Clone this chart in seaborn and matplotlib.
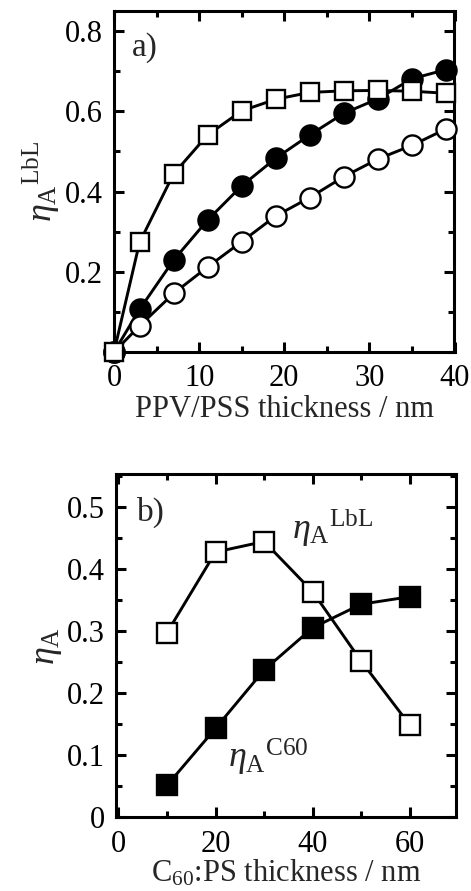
import matplotlib
matplotlib.use("Agg")
import matplotlib.pyplot as plt
import seaborn as sns
import numpy as np
import pandas as pd
from matplotlib.ticker import FixedLocator, MultipleLocator

# ---- panel a) data: absorption efficiency vs PPV/PSS thickness ----
thick_a = [0, 3, 7, 11, 15, 19, 23, 27, 31, 35, 39]
eta_open_sq = [0.0, 0.273, 0.444, 0.541, 0.601, 0.630, 0.647, 0.651, 0.652, 0.650, 0.645]
eta_filled_circ = [0.0, 0.106, 0.229, 0.329, 0.414, 0.483, 0.541, 0.595, 0.631, 0.681, 0.704]
eta_open_circ = [0.0, 0.065, 0.146, 0.212, 0.275, 0.339, 0.385, 0.437, 0.481, 0.515, 0.556]

# ---- panel b) data: absorption efficiency vs C60:PS thickness ----
thick_b = [10, 20, 30, 40, 50, 60]
eta_lbl = [0.297, 0.427, 0.444, 0.363, 0.251, 0.148]
eta_c60 = [0.051, 0.143, 0.237, 0.305, 0.343, 0.355]

# tick labels
yticks_a = [0.2, 0.4, 0.6, 0.8]
ytick_labels_a = ["0.2", "0.4", "0.6", "0.8"]
xticks_a = [0, 10, 20, 30, 40]
yticks_b = [0, 0.1, 0.2, 0.3, 0.4, 0.5]
ytick_labels_b = ["0", "0.1", "0.2", "0.3", "0.4", "0.5"]
xticks_b = [0, 20, 40, 60]

sns.set_style("ticks")
plt.rcParams.update({
    "font.family": ["Liberation Serif", "DejaVu Serif"],
    "mathtext.fontset": "custom",
    "mathtext.rm": "Liberation Serif",
    "mathtext.it": "Liberation Serif:italic",
    "mathtext.bf": "Liberation Serif:bold",
    "font.size": 22,
    "axes.linewidth": 2.2,
    "xtick.direction": "in",
    "ytick.direction": "in",
    "xtick.top": True,
    "ytick.right": True,
    "xtick.major.size": 7,
    "ytick.major.size": 7,
    "xtick.minor.size": 4,
    "ytick.minor.size": 4,
    "xtick.major.width": 2.2,
    "ytick.major.width": 2.2,
    "xtick.minor.width": 2.2,
    "ytick.minor.width": 2.2,
    "xtick.labelsize": 22,
    "ytick.labelsize": 22,
    "xtick.color": "black",
    "ytick.color": "black",
    "axes.edgecolor": "black",
    "xtick.major.pad": 9,
    "ytick.major.pad": 8,
})

W, H = 471, 891
fig = plt.figure(figsize=(W / 100, H / 100), dpi=100)
ax1 = fig.add_axes([114 / W, (H - 352) / H, 340.5 / W, 341 / H])
ax2 = fig.add_axes([116 / W, (H - 817) / H, 340 / W, 342.5 / H])

line_kw = dict(color="black", linewidth=2.1, markeredgecolor="black",
               markeredgewidth=1.7, clip_on=False)

df_a = pd.DataFrame({"x": thick_a, "sq": eta_open_sq,
                     "fc": eta_filled_circ, "oc": eta_open_circ})

sns.lineplot(data=df_a, x="x", y="fc", ax=ax1, sort=False, marker="o",
             markersize=14.5, markerfacecolor="black", zorder=3, **line_kw)
sns.lineplot(data=df_a, x="x", y="oc", ax=ax1, sort=False, marker="o",
             markersize=14.5, markerfacecolor="white", zorder=4, **line_kw)
sns.lineplot(data=df_a, x="x", y="sq", ax=ax1, sort=False, marker="s",
             markersize=13, markerfacecolor="white", zorder=5, **line_kw)

ax1.set_xlim(0, 40)
ax1.set_ylim(0, 0.85)
ax1.xaxis.set_major_locator(FixedLocator(xticks_a))
ax1.xaxis.set_minor_locator(MultipleLocator(5))
ax1.set_yticks(yticks_a)
ax1.set_yticklabels(ytick_labels_a)
ax1.yaxis.set_minor_locator(MultipleLocator(0.1))
ax1.set_xlabel("PPV/PSS thickness / nm", fontsize=22, labelpad=1)
ax1.set_ylabel(r"${\eta_{\mathrm{A}}}^{\mathrm{LbL}}$", fontsize=26, labelpad=2)
ax1.text(0.053, 0.87, "a)", transform=ax1.transAxes, fontsize=24,
         ha="left", va="baseline")

df_b = pd.DataFrame({"x": thick_b, "lbl": eta_lbl, "c60": eta_c60})
sns.lineplot(data=df_b, x="x", y="c60", ax=ax2, sort=False, marker="s",
             markersize=15, markerfacecolor="black", zorder=3, **line_kw)
sns.lineplot(data=df_b, x="x", y="lbl", ax=ax2, sort=False, marker="s",
             markersize=15, markerfacecolor="white", zorder=4, **line_kw)

ax2.set_xlim(-0.5, 69.5)
ax2.set_ylim(0, 0.552)
ax2.xaxis.set_major_locator(FixedLocator(xticks_b))
ax2.xaxis.set_minor_locator(FixedLocator([10, 30, 50]))
ax2.set_yticks(yticks_b)
ax2.set_yticklabels(ytick_labels_b)
ax2.yaxis.set_minor_locator(MultipleLocator(0.05))
ax2.set_xlabel(r"C$_{60}$:PS thickness / nm", fontsize=22, labelpad=0)
ax2.set_ylabel(r"$\eta_{\mathrm{A}}$", fontsize=26, labelpad=2)
ax2.text(0.061, 0.866, "b)", transform=ax2.transAxes, fontsize=24,
         ha="left", va="baseline")
ax2.text(35.8, 0.448, r"${\eta_{\mathrm{A}}}^{\mathrm{LbL}}$", fontsize=26,
         ha="left", va="baseline")
ax2.text(22.5, 0.080, r"${\eta_{\mathrm{A}}}^{\mathrm{C60}}$", fontsize=26,
         ha="left", va="baseline")

for ax in (ax1, ax2):
    for lab in ax.get_xticklabels() + ax.get_yticklabels():
        lab.set_color("black")

fig.savefig("out.png", dpi=100, facecolor="white")
